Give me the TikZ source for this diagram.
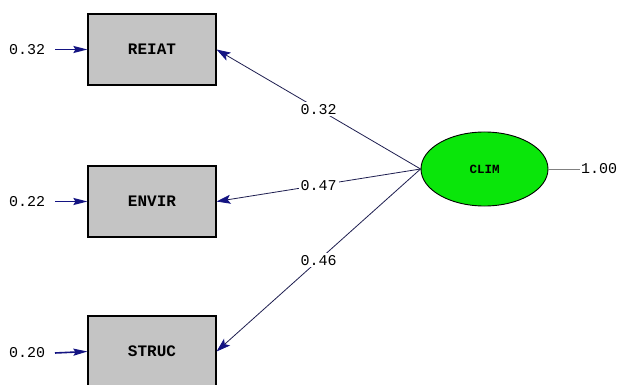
\documentclass[tikz,border=0pt]{standalone}
\usepackage{fontspec}
\setmonofont{Liberation Mono}
\usetikzlibrary{shapes.geometric,arrows.meta}
\definecolor{boxgray}{RGB}{196,196,196}
\definecolor{climgreen}{RGB}{10,230,10}
\definecolor{navy}{RGB}{20,20,130}
\definecolor{lineblue}{RGB}{30,30,80}
\tikzset{
  obs/.style={draw=black, line width=1.1pt, fill=boxgray, minimum width=128pt, minimum height=71pt, inner sep=0pt, font=\fontsize{16}{18}\selectfont\ttfamily\bfseries},
  lat/.style={ellipse, draw=black, line width=0.9pt, fill=climgreen, minimum width=127pt, minimum height=74pt, inner sep=0pt, font=\fontsize{12.5}{14}\selectfont\ttfamily\bfseries},
  num/.style={font=\fontsize{15}{17}\selectfont\ttfamily, inner sep=1pt},
  lbl/.style={num, fill=white, inner sep=2pt},
  errarrow/.style={draw=navy, line width=1.6pt, -{Stealth[length=14pt,width=7pt,inset=2pt]}},
  loadarrow/.style={draw=lineblue, line width=0.8pt, -{Stealth[length=14pt,width=9pt,inset=3pt,fill=navy,color=navy]}},
}
\begin{document}
\begin{tikzpicture}[x=1pt,y=-1pt]
\useasboundingbox (0,0) rectangle (621,385);
\fill[white] (0,0) rectangle (621,385);
\begin{scope}
\clip (0,0) rectangle (621,385);
\node[obs] (reiat) at (152,49.5) {REIAT};
\node[obs] (envir) at (152,201.5) {ENVIR};
\node[obs] (struc) at (152,351.5) {STRUC};
\node[lat] (clim) at (484.5,169) {CLIM};
% error variances
\node[num, anchor=west] (e1) at (8,49.5) {0.32};
\node[num, anchor=west] (e2) at (8,201.5) {0.22};
\node[num, anchor=west] (e3) at (8,353) {0.20};
\coordinate (e1s) at (55,49.5);
\coordinate (e2s) at (55,201.5);
\coordinate (e3s) at (55,353);
\draw[errarrow] (e1s) -- (reiat.west);
\draw[errarrow] (e2s) -- (envir.west);
\draw[errarrow] (e3s) -- (struc.west);
% latent variance
\node[num, anchor=west] (v) at (580,169) {1.00};
\draw[gray, line width=0.6pt] (clim.east) -- (v.west);
% loadings
\draw[loadarrow] (clim.west) -- node[lbl, pos=0.5] {0.32} (reiat.east);
\draw[loadarrow] (clim.west) -- node[lbl, pos=0.5] {0.47} (envir.east);
\draw[loadarrow] (clim.west) -- node[lbl, pos=0.5] {0.46} (struc.east);
\end{scope}
\end{tikzpicture}
\end{document}
